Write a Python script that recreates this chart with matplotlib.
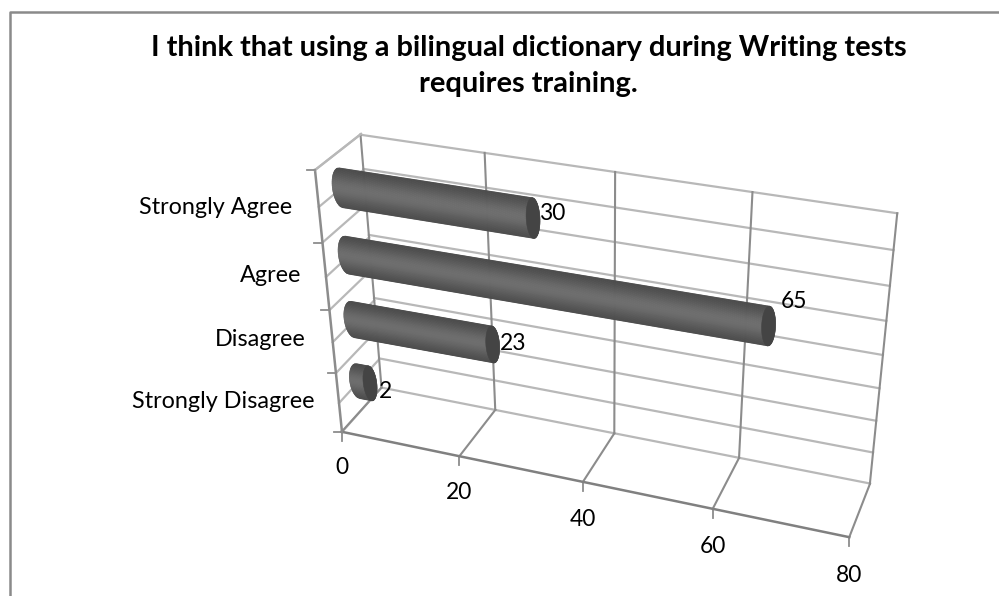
import numpy as np
import matplotlib
matplotlib.use("Agg")
import matplotlib.pyplot as plt
from matplotlib.collections import PolyCollection
from matplotlib.patches import Polygon
from matplotlib.transforms import Transform

TITLE = "I think that using a bilingual dictionary during Writing tests\nrequires training."
categories = ["Strongly Disagree", "Disagree", "Agree", "Strongly Agree"]
values = [2, 23, 65, 30]
value_ticks = [0, 20, 40, 60, 80]
W, H = 999, 596
plt.rcParams['font.family'] = ['Lato', 'DejaVu Sans']


class Persp(Transform):
    """Planar homography from chart coordinates to the pixel axes."""
    input_dims = output_dims = 2

    def __init__(self, src, dst):
        super().__init__()
        A = []
        for (x, y), (u, v) in zip(src, dst):
            A.append([x, y, 1, 0, 0, 0, -u * x, -u * y, -u])
            A.append([0, 0, 0, x, y, 1, -v * x, -v * y, -v])
        self.m = np.linalg.svd(np.array(A, float))[2][-1].reshape(3, 3)

    def transform_non_affine(self, pts):
        pts = np.asarray(pts, float)
        q = np.c_[pts, np.ones(len(pts))] @ self.m.T
        return q[:, :2] / q[:, 2:]

    transform = transform_non_affine


VMAX, NC = value_ticks[-1], len(categories)
FL0, FL4 = (342, 432), (315, 170)
BL0, BL4 = (381, 388), (361, 134)
FR0, BR0, BR4 = (849, 538), (870, 483), (898, 213)
wall = Persp([(0, 0), (20, 0), (40, 0), (60, 0), (VMAX, 0), (VMAX, NC), (60, NC), (40, NC), (20, NC), (0, NC)],
             [BL0, (496, 410), (614, 433), (739, 458), BR0, BR4, (752, 193), (614, 172), (485, 153), BL4])
floor = Persp([(0, 0), (20, 0), (60, 0), (VMAX, 0), (VMAX, 1), (60, 1), (20, 1), (0, 1)],
              [FL0, (459, 455), (713, 509), FR0, BR0, (739, 458), (496, 410), BL0])
side = Persp([(0, 0), (1, 0), (1, NC), (0, NC)], [FL0, BL0, BL4, FL4])
mid = Persp([(0, 0), (VMAX, 0), (VMAX, NC), (0, NC)],
            [(361, 411), (859, 507), (884, 236), (338, 153)])

fig = plt.figure(figsize=(W / 100, H / 100), dpi=100)
ax = fig.add_axes([0, 0, 1, 1])
ax.set_xlim(0, W)
ax.set_ylim(H, 0)
ax.axis('off')

# chart frame: left and top edges only reach the picture
ax.plot([9.5, 9.5, 999], [596, 11.5, 11.5], color='#8a8a8a', lw=1.8, zorder=1)

GRID = '#b8b8b8'
AXISC = '#8c8c8c'
for c in np.arange(0, NC + .01, .5):
    ax.plot([0, VMAX], [c, c], transform=wall + ax.transData, color=GRID, lw=1.6, zorder=2)
    ax.plot([0, 1], [c, c], transform=side + ax.transData, color=GRID, lw=1.6, zorder=2)
for v in value_ticks:
    ax.plot([v, v], [0, NC], transform=wall + ax.transData, color=AXISC, lw=1.5, zorder=2)
    ax.plot([v, v], [0, 1], transform=floor + ax.transData, color=AXISC, lw=1.5, zorder=2)
    px = floor.transform_non_affine([[v, 0]])[0]
    ax.plot([px[0], px[0]], [px[1], px[1] + 9], color=AXISC, lw=1.3, zorder=2)
    ax.text(px[0], px[1] + 36 + 0.035 * v, str(v), ha='center', va='center', fontsize=16.4, color='black')
ax.plot([0, VMAX], [0, 0], transform=floor + ax.transData, color='#808080', lw=1.8, zorder=3)
ax.plot([0, 0], [0, NC], transform=side + ax.transData, color=AXISC, lw=1.8, zorder=3)
ax.plot([0, 1], [NC, NC], transform=side + ax.transData, color=GRID, lw=1.6, zorder=3)
for c in range(NC + 1):
    px = side.transform_non_affine([[0, c]])[0]
    ax.plot([px[0] - 8, px[0]], [px[1], px[1]], color=AXISC, lw=1.3, zorder=3)

# cylinders
R = 0.29
CAP = 7.0
CAP_LEFT = 9.0
label_offset = {"Strongly Agree": (7, -5), "Agree": (12, -25), "Disagree": (7, -1), "Strongly Disagree": (9, 8)}
ts = np.linspace(-1, 1, 61)
for i, (name, val) in enumerate(zip(categories, values)):
    c = i + .5
    left, right, lt, lb, rt, rb = mid.transform_non_affine(
        [[0, c], [val, c], [0, c + R], [0, c - R], [val, c + R], [val, c - R]])
    along = (right - left) / np.linalg.norm(right - left)
    a_l, a_r = (lt - lb) / 2, (rt - rb) / 2
    polys, cols = [], []
    for t0, t1 in zip(ts[:-1], ts[1:]):
        s0, s1 = np.sqrt(1 - t0 ** 2), np.sqrt(1 - t1 ** 2)
        tm = (t0 + t1) / 2
        polys.append([left + t0 * a_l - s0 * CAP_LEFT * along, right + t0 * a_r + s0 * CAP * along,
                      right + t1 * a_r + s1 * CAP * along, left + t1 * a_l - s1 * CAP_LEFT * along])
        g = 0.28 + 0.15 * np.exp(-(tm / 0.7) ** 2)
        cols.append((g, g, g))
    ax.add_collection(PolyCollection(polys, facecolors=cols, edgecolors=cols, linewidths=.4, zorder=5))
    th = np.linspace(0, 2 * np.pi, 80)
    ell = right + np.outer(np.cos(th), a_r) + np.outer(np.sin(th), along * CAP)
    ax.add_patch(Polygon(ell, closed=True, fc='#444444', ec='#444444', lw=.4, zorder=6))
    tx, ty = right + np.array(label_offset[name])
    ax.text(tx, ty, str(val), fontsize=16.4, ha='left', va='center', color='black', zorder=7)

# category labels
label_pos = {"Strongly Agree": (292, 207), "Agree": (301, 275),
             "Disagree": (306, 340), "Strongly Disagree": (314, 402)}
for name in categories:
    x, y = label_pos[name]
    ax.text(x, y, name, ha='right', va='center', fontsize=16.8, color='black')

ax.text(528.5, 66, TITLE, ha='center', va='center', fontsize=20.9, fontweight='bold',
        color='black', linespacing=1.48)

fig.savefig('out.png', dpi=100)
